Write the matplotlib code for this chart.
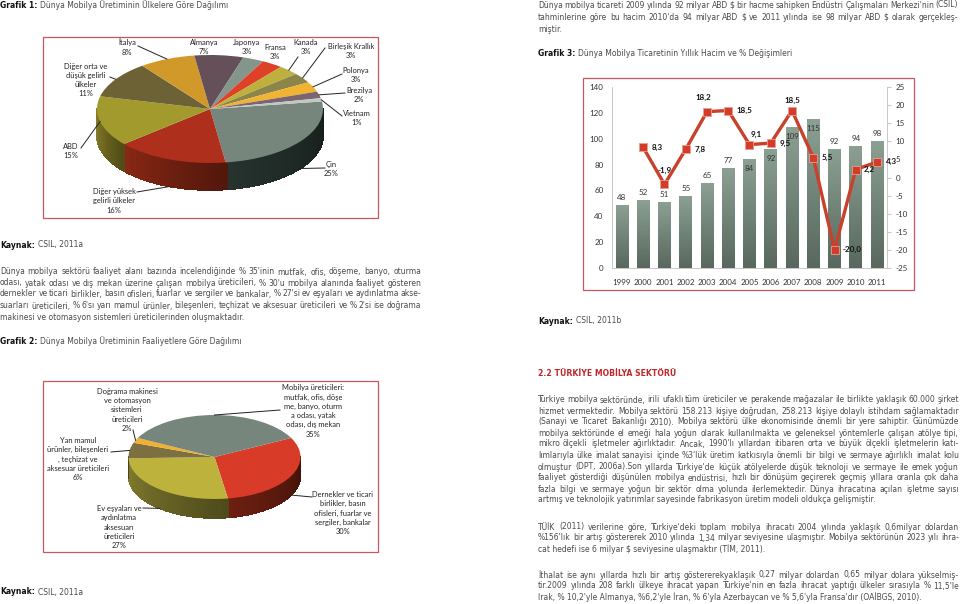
import numpy as np
import matplotlib
matplotlib.use("Agg")
import matplotlib.pyplot as plt
from matplotlib.collections import PolyCollection
from matplotlib.colors import LinearSegmentedColormap, to_rgb
from matplotlib.patches import Rectangle

plt.rcParams["axes.unicode_minus"] = False

W, H = 960, 604
BODY_FONT = "DejaVu Sans"
CHART_FONT = "Lato"
BODY_SIZE = 5.5
GREY = "#4a4a4a"

# Grafik 1
p1_labels = ["Çin\n25%", "Diğer yüksek\ngelirli ülkeler\n16%", "ABD\n15%",
             "Diğer orta ve\ndüşük gelirli\nülkeler\n11%", "İtalya\n8%", "Almanya\n7%",
             "Japonya\n3%", "Fransa\n3%", "Kanada\n3%", "Birleşik Krallık\n3%",
             "Polonya\n3%", "Brezilya\n2%", "Vietnam\n1%"]
p1_values = [25, 16, 15, 11, 8, 7, 3, 3, 3, 3, 3, 2, 1]
p1_colors = ["#76867c", "#ae2f1c", "#a39a2e", "#6d6236", "#d1992a", "#65505a", "#84958b",
             "#de4128", "#bdb03c", "#8c8448", "#f0b432", "#7c6470", "#c0c8c4"]
p1_sides = ["#26332e", "#8a2814", "#8a8228", "#5a5030", "#a87a20", "#50404a", "#6a7a70",
            "#b03520", "#98902e", "#70683a", "#c09028", "#645058", "#a0a8a4"]

# Grafik 2
p2_labels = ["Dernekler ve ticari\nbirlikler, basın\nofisleri, fuarlar ve\nsergiler, bankalar\n30%",
             "Ev eşyaları ve\naydınlatma\naksesuarı\nüreticileri\n27%",
             "Yan mamul\nürünler, bileşenleri\n, teçhizat ve\naksesuar üreticileri\n6%",
             "Doğrama makinesi\nve otomasyon\nsistemleri\nüreticileri\n2%",
             "Mobilya üreticileri:\nmutfak, ofis, döşe\nme, banyo, oturm\na odası, yatak\nodası, dış mekan\n35%"]
p2_values = [30, 27, 6, 2, 35]
p2_colors = ["#d83c28", "#bcb23c", "#7c7040", "#f0b030", "#76867c"]
p2_sides = ["#6e1f10", "#857f30", "#5a5030", "#b08020", "#26332e"]

# Grafik 3
years = ["1999", "2000", "2001", "2002", "2003", "2004", "2005", "2006", "2007", "2008", "2009", "2010", "2011"]
volume = [48, 52, 51, 55, 65, 77, 84, 92, 109, 115, 92, 94, 98]
change_years = years[1:]
change = [8.3, -1.9, 7.8, 18.2, 18.5, 9.1, 9.5, 18.5, 5.5, -20.0, 2.2, 4.3]
change_text = ["8,3", "-1,9", "7,8", "18,2", "18,5", "9,1", "9,5", "18,5", "5,5", "-20,0", "2,2", "4,3"]

para_top = ["Dünya mobilya ticareti 2009 yılında 92 milyar ABD $ bir hacme sahipken Endüstri Çalışmaları Merkezi'nin (CSIL)",
            "tahminlerine göre bu hacim 2010'da 94 milyar ABD $ ve 2011 yılında ise 98 milyar ABD $ olarak gerçekleş-"]
para_left = ["Dünya mobilya sektörü faaliyet alanı bazında incelendiğinde % 35'inin mutfak, ofis, döşeme, banyo, oturma",
             "odası, yatak odası ve dış mekan üzerine çalışan mobilya üreticileri, % 30'u mobilya alanında faaliyet gösteren",
             "dernekler ve ticari birlikler, basın ofisleri, fuarlar ve sergiler ve bankalar, % 27'si ev eşyaları ve aydınlatma akse-",
             "suarları üreticileri, % 6'sı yarı mamul ürünler, bileşenleri, teçhizat ve aksesuar üreticileri ve % 2'si ise doğrama"]
para_a = ["Türkiye mobilya sektöründe, irili ufaklı tüm üreticiler ve perakende mağazalar ile birlikte yaklaşık 60.000 şirket",
          "hizmet vermektedir. Mobilya sektörü 158.213 kişiye doğrudan, 258.213 kişiye dolaylı istihdam sağlamaktadır",
          "(Sanayi ve Ticaret Bakanlığı 2010). Mobilya sektörü ülke ekonomisinde önemli bir yere sahiptir. Günümüzde",
          "mobilya sektöründe el emeği hala yoğun olarak kullanılmakta ve geleneksel yöntemlerle çalışan atölye tipi,",
          "mikro ölçekli işletmeler ağırlıktadır. Ancak, 1990'lı yıllardan itibaren orta ve büyük ölçekli işletmelerin katı-",
          "lımlarıyla ülke imalat sanayisi içinde %3'lük üretim katkısıyla önemli bir bilgi ve sermaye ağırlıklı imalat kolu",
          "olmuştur (DPT, 2006a).Son yıllarda Türkiye'de küçük atölyelerde düşük teknoloji ve sermaye ile emek yoğun",
          "faaliyet gösterdiği düşünülen mobilya endüstrisi, hızlı bir dönüşüm geçirerek geçmiş yıllara oranla çok daha",
          "fazla bilgi ve sermaye yoğun bir sektör olma yolunda ilerlemektedir. Dünya ihracatına açılan işletme sayısı"]
para_b = ["TÜİK (2011) verilerine göre, Türkiye'deki toplam mobilya ihracatı 2004 yılında yaklaşık 0,6milyar dolardan",
          "%156'lık bir artış göstererek 2010 yılında 1,34 milyar seviyesine ulaşmıştır. Mobilya sektörünün 2023 yılı ihra-"]
para_c = ["İthalat ise aynı yıllarda hızlı bir artış göstererekyaklaşık 0,27 milyar dolardan 0,65 milyar dolara yükselmiş-",
          "tir.2009 yılında 208 farklı ülkeye ihracat yapan Türkiye'nin en fazla ihracat yaptığı ülkeler sırasıyla % 11,5'le"]


def scale(color, k):
    return tuple(c * k for c in to_rgb(color))


def add_axes_px(x0, y0, x1, y1, **kw):
    return fig.add_axes([x0 / W, 1 - y1 / H, (x1 - x0) / W, (y1 - y0) / H], **kw)


def text_px(x, y, s, **kw):
    kw.setdefault("fontfamily", BODY_FONT)
    kw.setdefault("fontsize", BODY_SIZE)
    kw.setdefault("color", GREY)
    # baseline so words in a line stay level
    return page.text(x, y + 2.5, s, parse_math=False, va="baseline", **kw)


def justified(lines, x0, x1, ys):
    renderer = fig.canvas.get_renderer()
    for line, y in zip(lines, ys):
        items = [text_px(x0, y, w) for w in line.split(" ")]
        widths = [t.get_window_extent(renderer).width for t in items]
        gap = (x1 - x0 - sum(widths)) / (len(items) - 1)
        x = x0
        for t, w in zip(items, widths):
            t.set_x(x)
            x += w + gap


def caption(x, y, head, rest):
    renderer = fig.canvas.get_renderer()
    t = text_px(x, y, head, fontweight="bold", color="#111111")
    text_px(x + t.get_window_extent(renderer).width + 3, y, rest)


def pie3d(values, colors, sides, cx, cy, rx, ry, depth, start):
    pad = 1.3
    ax = add_axes_px(cx - rx * pad, cy - ry * pad, cx + rx * pad, cy + (ry + depth) * pad)
    ax.axis("off")
    wedges, _ = ax.pie(values, colors=colors, startangle=start, counterclock=False,
                       wedgeprops={"linewidth": 0, "zorder": 3})
    ax.set_aspect("auto")
    ax.set_xlim(-pad, pad)
    d = depth / ry
    ax.set_ylim(-pad - d * pad, pad)
    anchors = []
    for w, side in zip(wedges, sides):
        mid = np.radians((w.theta1 + w.theta2) / 2)
        anchors.append((cx + rx * np.cos(mid), cy - ry * np.sin(mid), np.sin(mid) < -0.25))
        ts = np.radians(np.arange(w.theta1, w.theta2 + 1.5, 1.5))
        ts = ts[np.sin(ts) <= 0.02]
        if len(ts) < 2:
            continue
        quads = []
        cols = []
        for i in range(len(ts) - 1):
            a, b = ts[i], ts[i + 1]
            quads.append([(np.cos(a), np.sin(a)), (np.cos(b), np.sin(b)),
                          (np.cos(b), np.sin(b) - d), (np.cos(a), np.sin(a) - d)])
            cols.append(scale(side, 1 - 0.42 * i / (len(ts) - 1)))
        ax.add_collection(PolyCollection(quads, facecolors=cols, edgecolors=cols, linewidths=0.5,
                                         antialiaseds=False, zorder=2))
    return anchors, depth


def pie_labels(labels, anchors, depth, places):
    for lab, (ax_, ay, front), (tx, ty, lx, ly) in zip(labels, anchors, places):
        page.text(tx, ty, lab, ha="center", va="center", fontfamily=CHART_FONT, fontsize=5.4,
                  color="#222222", linespacing=1.36)
        if lx is None:
            continue
        end_y = ay + depth if front else ay
        page.plot([lx, ax_], [ly, end_y], color="#222222", lw=0.7, zorder=4)


fig = plt.figure(figsize=(W / 100, H / 100), dpi=100, facecolor="white")
page = fig.add_axes([0, 0, 1, 1], zorder=5)
page.patch.set_visible(False)
page.set_xlim(0, W)
page.set_ylim(H, 0)
page.axis("off")

# frames
for x0, y0, x1, y1 in [(43, 37, 378, 218), (43, 381, 378, 552), (583, 78, 914, 290)]:
    page.add_patch(Rectangle((x0, y0), x1 - x0, y1 - y0, fill=False, ec="#c9565f", lw=0.9))

# Grafik 1 pie
a1, dep1 = pie3d(p1_values, p1_colors, p1_sides, 210, 109, 113, 54, 27, 8)
places1 = [(331, 169, 325, 168), (114, 201, 137, 192), (71, 151, 81, 148), (86, 80, 110, 77),
           (127, 47, 138, 46), (204, 47, None, None), (247, 47, None, None), (275, 52, None, None),
           (306, 47, 298, 57), (351, 51, 325, 48), (356, 75, 342, 74), (359, 95, 345, 93), (357, 118, 342, 116)]
pie_labels(p1_labels, a1, dep1, places1)

# Grafik 2 pie
a2, dep2 = pie3d(p2_values, p2_colors, p2_sides, 214.5, 457, 86, 42, 19, 27)
places2 = [(343, 513, 312, 497), (119, 527, 143, 508), (78, 459, 111, 452), (127, 410, 133, 430), (313, 411, 280, 410)]
pie_labels(p2_labels, a2, dep2, places2)

# Grafik 3
ax = add_axes_px(612, 87, 887, 268)
x = np.arange(len(years))
bars = ax.bar(x, volume, width=0.6, color="#76867c")
cmap = LinearSegmentedColormap.from_list("bar", ["#8b9f92", "#58685e"])
for b in bars:
    b.set_visible(False)
    bb = b.get_bbox()
    ax.imshow(np.linspace(0, 1, 64).reshape(-1, 1), cmap=cmap, aspect="auto", zorder=2,
              extent=(bb.x0, bb.x1, bb.y0, bb.y1), origin="upper")
ax.set_xlim(-0.47, 12.47)
ax.set_ylim(0, 140)
ax.set_yticks(range(0, 141, 20))
ax.set_xticks(x, years)
ax.tick_params(axis="both", length=0, labelsize=5.8, labelcolor="#333333", labelfontfamily=CHART_FONT)
ax.tick_params(axis="x", pad=8)
ax.tick_params(axis="y", pad=6)
for side in ["top", "right"]:
    ax.spines[side].set_visible(False)
for side in ["left", "bottom"]:
    ax.spines[side].set_color("#c8c8c8")
    ax.spines[side].set_linewidth(0.7)

inside = {"2005", "2006", "2007", "2008"}
for xi, v, yr in zip(x, volume, years):
    dy = -9 if yr in inside else 8
    ax.annotate(str(v), (xi, v), xytext=(0, dy), textcoords="offset pixels", ha="center", va="center",
                fontfamily=CHART_FONT, fontsize=5.8, color="#333333", zorder=6)

ax2 = ax.twinx()
ax2.set_ylim(-25, 25)
ax2.set_yticks(range(-25, 26, 5))
xc = x[1:]
ax2.plot(xc, change, color="#c9402b", lw=2.4, marker="s", ms=6, mfc="#d23c28", mec="#e8a090", mew=0.6,
         solid_joinstyle="miter", zorder=5)
ax2.tick_params(axis="y", length=3, color="#c8c8c8", labelsize=5.8, labelcolor="#333333",
                labelfontfamily=CHART_FONT, pad=3)
for side in ["top", "left", "bottom"]:
    ax2.spines[side].set_visible(False)
ax2.spines["right"].set_color("#c8c8c8")
ax2.spines["right"].set_linewidth(0.7)
offsets = [(14, 0), (0, 14), (14, 0), (-4, 14), (16, 0), (7, 10), (14, 0), (0, 10), (14, 0), (18, 0), (14, 0), (14, 0)]
for xi, v, s, off in zip(xc, change, change_text, offsets):
    ax2.annotate(s, (xi, v), xytext=off, textcoords="offset pixels", ha="center", va="center",
                 fontfamily=CHART_FONT, fontsize=5.8, fontweight="bold", color="#111111", zorder=7)

# page text
fig.canvas.draw()
caption(0, 5, "Grafik 1:", "Dünya Mobilya Üretiminin Ülkelere Göre Dağılımı")
caption(0, 245, "Kaynak:", "CSIL, 2011a")
justified(para_left, 0, 421, [272, 283, 294, 306])
text_px(0, 317, "makinesi ve otomasyon sistemleri üreticilerinden oluşmaktadır.")
caption(0, 342, "Grafik 2:", "Dünya Mobilya Üretiminin Faaliyetlere Göre Dağılımı")
caption(0, 592, "Kaynak:", "CSIL, 2011a")

justified(para_top, 538, 958, [5, 17])
text_px(538, 29, "miştir.")
caption(538, 53, "Grafik 3:", "Dünya Mobilya Ticaretinin Yıllık Hacim ve % Değişimleri")
caption(538, 321, "Kaynak:", "CSIL, 2011b")
text_px(538, 374, "2.2 TÜRKİYE MOBİLYA SEKTÖRÜ", fontweight="bold", color="#c0282c", fontsize=5.6)
justified(para_a, 538, 959, [400, 411, 422, 433, 444, 455, 467, 478, 489])
text_px(538, 500, "artmış ve teknolojik yatırımlar sayesinde fabrikasyon üretim modeli oldukça gelişmiştir.")
justified(para_b, 538, 959, [527, 538])
text_px(538, 549, "cat hedefi ise 6 milyar $ seviyesine ulaşmaktır (TİM, 2011).")
justified(para_c, 538, 959, [575, 586])
text_px(538, 597, "Irak, % 10,2'yle Almanya, %6,2'yle İran, % 6'yla Azerbaycan ve % 5,6'yla Fransa'dır (OAİBGS, 2010).")

fig.savefig("out.png", dpi=100)
